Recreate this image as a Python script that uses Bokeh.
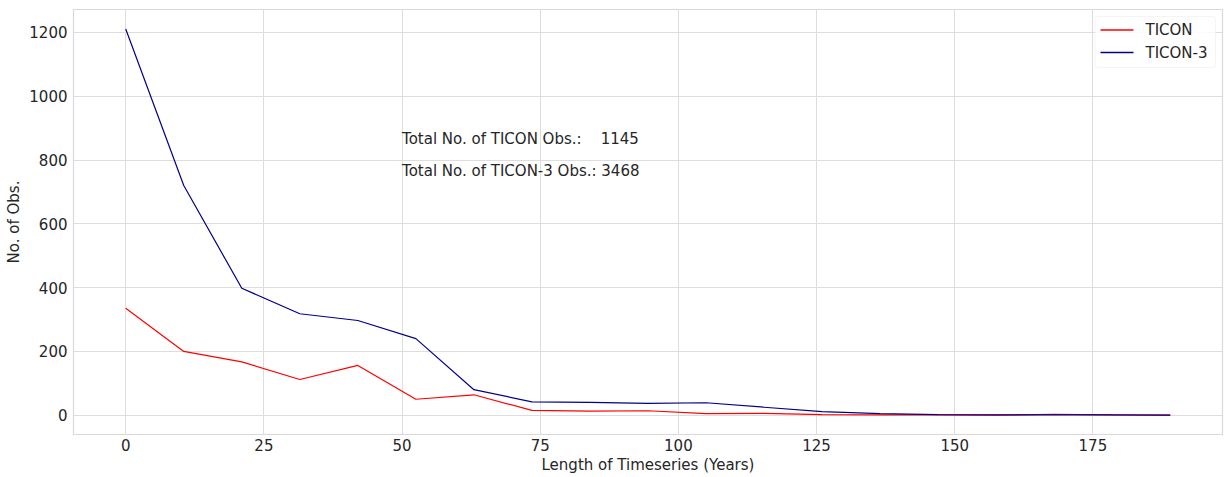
from bokeh.plotting import figure
from bokeh.models import FixedTicker, Range1d, Arrow, BoxAnnotation, Label
from bokeh.core.properties import value
from bokeh.embed import file_html
from bokeh.resources import INLINE

years = [0, 10.5, 21, 31.5, 42, 52.5, 63, 73.5, 84, 94.5, 105, 115.5, 126, 136.5, 147, 157.5, 168, 178.5, 189]
ticon = [335, 200, 167, 112, 156, 50, 64, 15, 13, 14, 5, 6, 2, 1, 1, 0, 3, 1, 0]
ticon3 = [1211, 720, 398, 318, 297, 240, 80, 42, 40, 37, 39, 25, 11, 5, 2, 1, 1, 1, 0]
series_names = ["TICON", "TICON-3"]
series_colors = ["#ff0000", "#00008b"]
x_ticks = [0, 25, 50, 75, 100, 125, 150, 175]
y_ticks = [0, 200, 400, 600, 800, 1000, 1200]
NB = "\u00a0"
annot_text = ["Total No. of TICON Obs.:" + NB * 4 + "1145", "Total No. of TICON-3 Obs.: 3468"]
annot_x = [50, 50]
annot_y = [865, 765]

FONT = "DejaVu Sans"
TXT = "#262626"

X0, X1 = -9.45, 198.45
Y0, Y1 = -60.5, 1272
FW, FH = 1149, 425
FL, FT = 73, 9

p = figure(frame_width=FW, frame_height=FH, output_backend="svg", toolbar_location=None,
           x_range=Range1d(X0, X1), y_range=Range1d(Y0, Y1),
           min_border_left=FL, min_border_top=FT, min_border_right=3, min_border_bottom=43,
           background_fill_color="white", border_fill_color="white")

p.outline_line_color = "#d9d9d9"
p.outline_line_width = 1.2

p.line(years, ticon, line_color=series_colors[0], line_width=1.2)
p.line(years, ticon3, line_color=series_colors[1], line_width=1.2)

p.text(x=annot_x, y=annot_y, text=annot_text, text_font=value(FONT), text_font_size="15px",
       text_color=TXT, text_baseline="middle", text_align="left")

p.xaxis.ticker = FixedTicker(ticks=x_ticks)
p.yaxis.ticker = FixedTicker(ticks=y_ticks)
for ax in (p.xaxis, p.yaxis):
    ax.axis_line_color = None
    ax.major_tick_line_color = None
    ax.minor_tick_line_color = None
    ax.major_tick_out = 0
    ax.major_tick_in = 0
    ax.minor_tick_out = 0
    ax.minor_tick_in = 0
    ax.major_label_text_font = FONT
    ax.major_label_text_font_size = "15px"
    ax.major_label_text_color = TXT
    ax.axis_label_text_font = FONT
    ax.axis_label_text_font_size = "15px"
    ax.axis_label_text_font_style = "normal"
    ax.axis_label_text_color = TXT
p.xaxis.axis_label = "Length of Timeseries (Years)"
p.yaxis.axis_label = "No. of Obs."
p.xaxis.major_label_standoff = 4
p.yaxis.major_label_standoff = 6
p.xaxis.axis_label_standoff = 2
p.yaxis.axis_label_standoff = 3

p.grid.grid_line_color = "#dddddd"
p.grid.grid_line_width = 1

# legend built from annotations (box, swatches, labels); pixel layout -> data coords
sx = FW / (X1 - X0)
sy = FH / (Y1 - Y0)
def px_to_x(px):
    return X0 + (px - FL) / sx
def py_to_y(py):
    return Y1 - (py - FT) / sy

p.add_layout(BoxAnnotation(left=px_to_x(1094.5), right=px_to_x(1215), top=py_to_y(16), bottom=py_to_y(67),
                           fill_color="white", fill_alpha=0.85, line_color="#d9d9d9", line_width=1,
                           border_radius=3, level="annotation"))
sw_left, sw_right = 1100, 1133
sw_rows = [29.5, 52]
for name, c, row in zip(series_names, series_colors, sw_rows):
    p.add_layout(Arrow(end=None, x_start=px_to_x(sw_left), x_end=px_to_x(sw_right),
                       y_start=py_to_y(row), y_end=py_to_y(row),
                       line_color=c, line_width=1.3))
    p.add_layout(Label(x=px_to_x(1145), y=py_to_y(row), text=name, text_font=FONT,
                       text_font_size="15px", text_color=TXT, text_baseline="middle",
                       text_align="left"))

open("out.html", "w").write(file_html(p, INLINE))
